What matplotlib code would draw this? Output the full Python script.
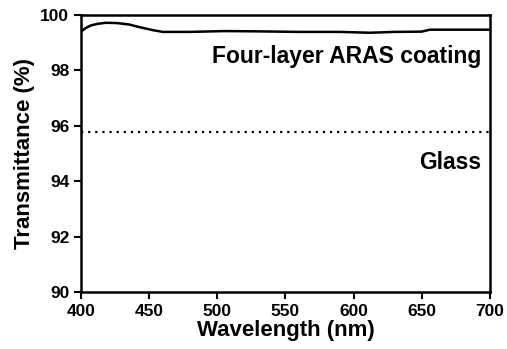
import matplotlib
matplotlib.use("Agg")
import matplotlib.pyplot as plt

plt.rcParams["font.family"] = ["Liberation Sans", "DejaVu Sans"]

# ARAS coating transmittance
wavelength = [400, 403, 407, 412, 418, 426, 435, 443, 452, 460, 480, 505,
              530, 560, 590, 612, 630, 650, 656, 680, 700]
coating = [99.40, 99.52, 99.62, 99.68, 99.72, 99.71, 99.66, 99.56, 99.46,
           99.39, 99.39, 99.42, 99.41, 99.39, 99.39, 99.36, 99.39, 99.40,
           99.47, 99.47, 99.47]

# bare glass
glass_wl = [400, 700]
glass = [95.77, 95.77]

xticks = [400, 450, 500, 550, 600, 650, 700]
yticks = [90, 92, 94, 96, 98, 100]

fig = plt.figure(figsize=(5.07, 3.49), dpi=100)
ax = fig.add_axes([0.160, 0.163, 0.806, 0.794])

ax.plot(wavelength, coating, color="black", lw=1.8)
ax.plot(glass_wl, glass, color="black", lw=1.6, linestyle=(0, (1, 2.2)))

ax.set_xlim(400, 700)
ax.set_ylim(90, 100)
ax.set_xticks(xticks)
ax.set_yticks(yticks)
ax.tick_params(direction="out", length=5, width=1.5, labelsize=12.5,
               top=False, right=False)
for lab in ax.get_xticklabels() + ax.get_yticklabels():
    lab.set_fontweight("bold")
for s in ax.spines.values():
    s.set_linewidth(1.8)

ax.text(0.98, 0.852, "Four-layer ARAS coating", transform=ax.transAxes,
        fontsize=16.5, fontweight="bold", ha="right", va="center")
ax.text(0.98, 0.466, "Glass", transform=ax.transAxes,
        fontsize=16.5, fontweight="bold", ha="right", va="center")

ax.set_xlabel("Wavelength (nm)", fontsize=16, fontweight="bold", labelpad=1)
ax.set_ylabel("Transmittance (%)", fontsize=16, fontweight="bold", labelpad=4)

fig.savefig("out.png", dpi=100)
